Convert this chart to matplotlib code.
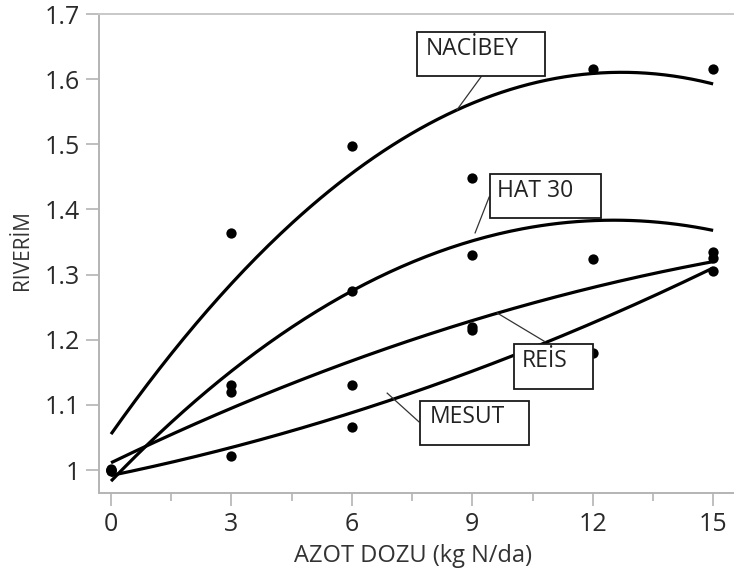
import numpy as np
import matplotlib
matplotlib.use("Agg")
import matplotlib.pyplot as plt
from matplotlib.patches import Rectangle

plt.rcParams['font.family'] = ['Open Sans', 'DejaVu Sans']

# ---- data ----
dose_levels = [0, 3, 6, 9, 12, 15]

# observed points (x, relative yield)
pts_x = [0, 0, 0, 0,
         3, 3, 3, 3,
         6, 6, 6, 6,
         9, 9, 9, 9,
         12, 12, 12,
         15, 15, 15, 15]
pts_y = [1.000, 0.998, 1.000, 1.001,
         1.364, 1.131, 1.120, 1.021,
         1.498, 1.275, 1.131, 1.066,
         1.449, 1.330, 1.215, 1.219,
         1.616, 1.324, 1.180,
         1.616, 1.335, 1.326, 1.305]

# fitted curves, values at the dose levels
varieties = ["NACİBEY", "HAT 30", "REİS", "MESUT"]
curve_nacibey = [1.055, 1.286, 1.456, 1.563, 1.608, 1.593]
curve_hat30 = [0.982, 1.154, 1.274, 1.351, 1.383, 1.368]
curve_reis = [1.011, 1.095, 1.168, 1.229, 1.280, 1.320]
curve_mesut = [0.992, 1.034, 1.088, 1.152, 1.226, 1.310]
curves = [curve_nacibey, curve_hat30, curve_reis, curve_mesut]

x_ticks = [0, 3, 6, 9, 12, 15]
y_ticks = [1.0, 1.1, 1.2, 1.3, 1.4, 1.5, 1.6, 1.7]
y_tick_labels = ["1", "1.1", "1.2", "1.3", "1.4", "1.5", "1.6", "1.7"]

# label boxes: (box x0, box x1, box y0, box y1, text x, text y, leader from, leader to)
label_layout = {
    "NACİBEY": (7.625, 10.815, 1.6052, 1.6728, 7.83, 1.646, (9.22, 1.6037), (8.62, 1.553)),
    "HAT 30": (9.444, 12.21, 1.3871, 1.4547, 9.62, 1.428, (9.42, 1.419), (9.07, 1.364)),
    "REİS": (10.04, 12.01, 1.1244, 1.1935, 10.22, 1.167, (10.81, 1.197), (9.62, 1.241)),
    "MESUT": (7.70, 10.42, 1.0384, 1.106, 7.93, 1.081, (7.67, 1.074), (6.88, 1.118)),
}

# ---- figure ----
fig = plt.figure(figsize=(7.34, 5.76), dpi=100)
ax = fig.add_axes([99/734, 83/576, 1 - 99/734, (493 - 14)/576])

xs = np.linspace(0, 15, 200)
for cy in curves:
    coef = np.polyfit(dose_levels, cy, 2)
    ax.plot(xs, np.polyval(coef, xs), color='black', lw=2.3, zorder=3,
            solid_capstyle='butt')

ax.scatter(pts_x, pts_y, s=55, color='black', zorder=4, linewidths=0)

for name in varieties:
    x0, x1, y0, y1, tx, ty, (lx0, ly0), (lx1, ly1) = label_layout[name]
    ax.plot([lx0, lx1], [ly0, ly1], color='#333333', lw=0.9, zorder=5)
    ax.add_patch(Rectangle((x0, y0), x1 - x0, y1 - y0, facecolor='white',
                           edgecolor='#1a1a1a', lw=1.3, zorder=6))
    ax.text(tx, ty, name, fontsize=16.5, color='#222222', ha='left',
            va='center', zorder=7)

ax.set_xlim(-0.3, 15.52)
ax.set_ylim(0.9647, 1.7)
ax.set_xticks(x_ticks)
ax.set_xticks([1.5, 4.5, 7.5, 10.5, 13.5], minor=True)
ax.set_yticks(y_ticks)
ax.set_yticklabels(y_tick_labels)

for side in ['left', 'bottom', 'top']:
    ax.spines[side].set_color('#b4b4b4')
    ax.spines[side].set_linewidth(1.4)
ax.spines['top'].set_color('#c8c8c8')
ax.spines['right'].set_visible(False)

ax.tick_params(axis='both', which='major', length=9.5, width=1.2,
               color='#b4b4b4', labelsize=18, labelcolor='#2a2a2a', pad=4)
ax.tick_params(axis='x', which='minor', length=6, width=1.2, color='#b4b4b4')

ax.set_xlabel("AZOT DOZU (kg N/da)", fontsize=17, color='#333333')
ax.set_ylabel("RIVERİM", fontsize=15, color='#333333')
ax.xaxis.set_label_coords(0.494, -0.1315)
ax.xaxis.label.set_va('center')
ax.yaxis.set_label_coords(-0.121, 0.507)
ax.yaxis.label.set_va('center')

fig.savefig("out.png", dpi=100)
